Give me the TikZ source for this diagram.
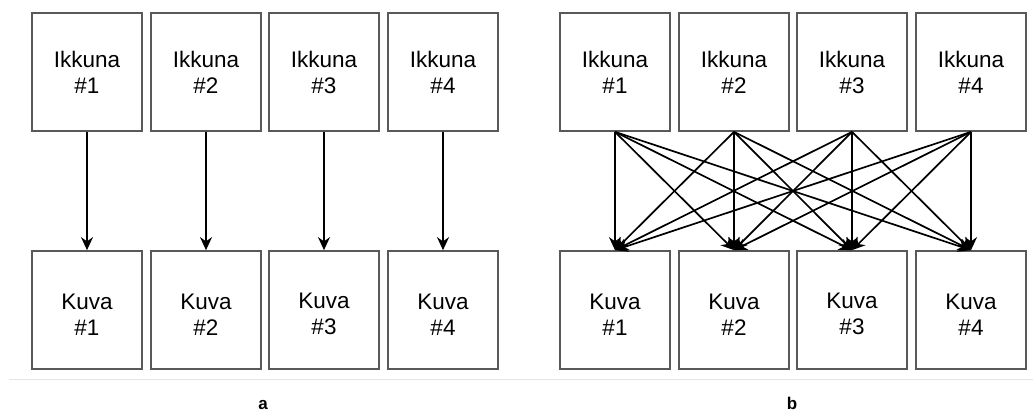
\documentclass[tikz,border=0pt]{standalone}
\usepackage{fontspec}
\setmainfont{Liberation Sans}
\usetikzlibrary{arrows.meta}
\tikzset{
  box/.style={draw=black!65, line width=1.7pt, minimum width=110pt, minimum height=118pt,
    inner sep=0pt, align=center, font=\fontsize{22.5}{26}\selectfont},
  conn/.style={line width=1.7pt, black, -{Stealth[length=13pt,width=12pt]}},
  captionlbl/.style={font=\fontsize{17}{19}\selectfont\bfseries, anchor=base}
}
\newcommand{\lowstrut}{\rule{0pt}{24pt}}
\begin{document}
\begin{tikzpicture}[x=1pt,y=-1pt]
\useasboundingbox (0,0) rectangle (1033,412);
% separator
\draw[black!10, line width=1pt] (9,379.3) -- (1033,379.3);
% panel a
\foreach \i/\x in {1/87,2/206,3/324,4/443}{
  \node[box] (at\i) at (\x,72) {Ikkuna\\\#\i};
  \node[box] (ab\i) at (\x,310) {\lowstrut Kuva\\\#\i};
  \draw[conn] (at\i.south) -- (ab\i.north);
}
% panel b
\foreach \i/\x in {1/615,2/734,3/852,4/971}{
  \node[box] (bt\i) at (\x,72) {Ikkuna\\\#\i};
  \node[box] (bb\i) at (\x,310) {\lowstrut Kuva\\\#\i};
}
\foreach \i in {1,...,4}{
  \foreach \j in {1,...,4}{
    \draw[conn] (bt\i.south) -- (bb\j.north);
  }
}
\node[captionlbl] (capa) at (263,409) {a};
\node[captionlbl] (capb) at (792,409) {b};
\end{tikzpicture}
\end{document}
